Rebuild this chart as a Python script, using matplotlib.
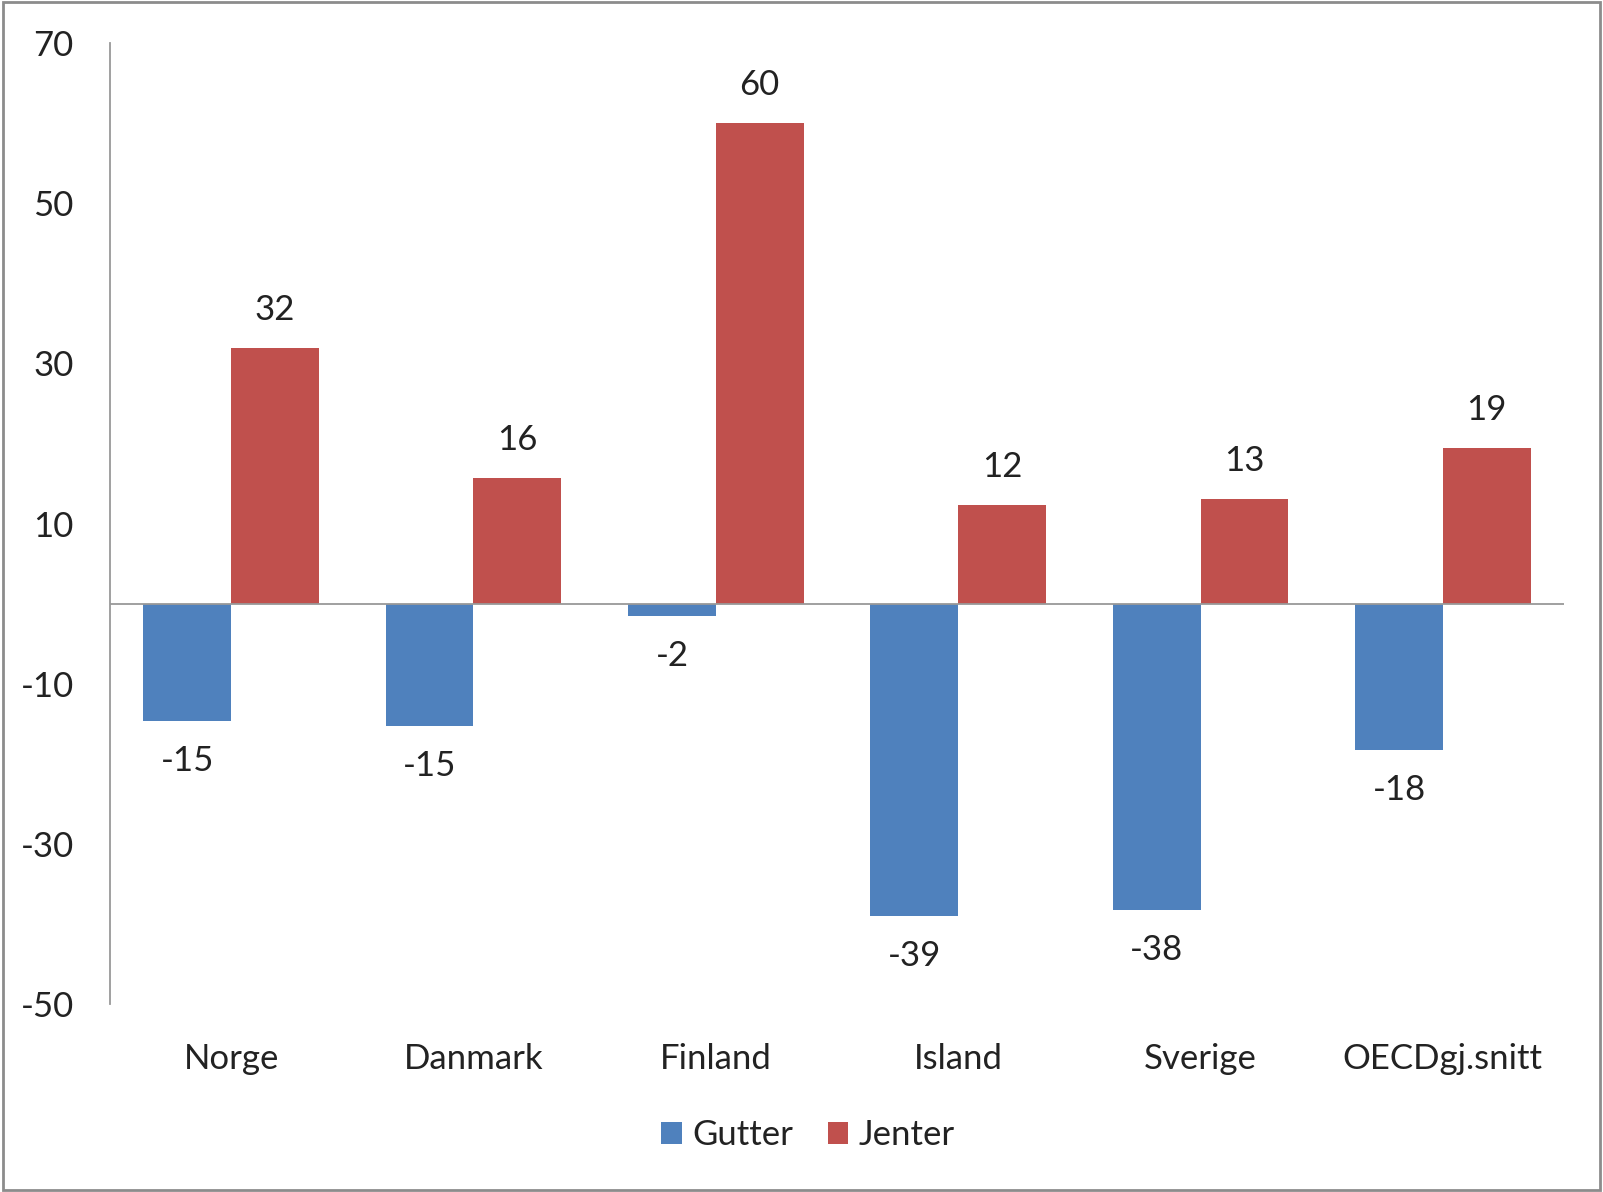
import matplotlib.pyplot as plt
import matplotlib.patches as mpatches
import numpy as np

plt.rcParams['font.family'] = ['Lato', 'DejaVu Sans']
plt.rcParams['axes.unicode_minus'] = False

# data (bar heights, labels shown rounded)
countries = ['Norge', 'Danmark', 'Finland', 'Island', 'Sverige', 'OECDgj.snitt']
gutter = [-14.6, -15.3, -1.6, -39.0, -38.2, -18.3]
jenter = [31.9, 15.7, 60.0, 12.3, 13.1, 19.4]
yticks = [-50, -30, -10, 10, 30, 50, 70]

blue = '#4F81BD'
red = '#C0504D'
txt = '#222222'

fig = plt.figure(figsize=(16.03, 11.92), dpi=100)
ax = fig.add_axes([0.0686, 0.1577, 0.9071, 0.8062])

x = np.arange(len(countries))
w = 0.362
b1 = ax.bar(x - w/2, gutter, w, color=blue, label='Gutter')
b2 = ax.bar(x + w/2, jenter, w, color=red, label='Jenter')

for rect, v in zip(b1, gutter):
    ax.annotate('%d' % round(v), (rect.get_x() + rect.get_width()/2, v),
                xytext=(0, -40), textcoords='offset pixels',
                ha='center', va='center', fontsize=25, color=txt)
for rect, v in zip(b2, jenter):
    ax.annotate('%d' % round(v), (rect.get_x() + rect.get_width()/2, v),
                xytext=(0, 38), textcoords='offset pixels',
                ha='center', va='center', fontsize=25, color=txt)

ax.set_xlim(-0.5, len(countries) - 0.5)
ax.set_ylim(-50, 70)
ax.set_yticks(yticks)
ax.set_xticks(x)
ax.set_xticklabels(countries)
ax.tick_params(axis='y', length=0, pad=26, labelsize=25, labelcolor=txt)
ax.tick_params(axis='x', length=0, pad=28, labelsize=25, labelcolor=txt)

ax.axhline(0, color='#999999', lw=1.3)
for s in ['top', 'right', 'bottom']:
    ax.spines[s].set_visible(False)
ax.spines['left'].set_color('#999999')
ax.spines['left'].set_linewidth(1.3)

leg = fig.legend(handles=[b1, b2], loc='center', bbox_to_anchor=(0.504, 0.048),
                 ncol=2, frameon=False, fontsize=25, handlelength=0.6,
                 handleheight=0.6, handletextpad=0.3, columnspacing=1.0)
for t in leg.get_texts():
    t.set_color(txt)

# outer border
fig.patches.append(mpatches.Rectangle((0.002, 0.002), 0.996, 0.996,
                                      transform=fig.transFigure, fill=False,
                                      edgecolor='#8c8c8c', lw=2))

fig.savefig('out.png', dpi=100)
